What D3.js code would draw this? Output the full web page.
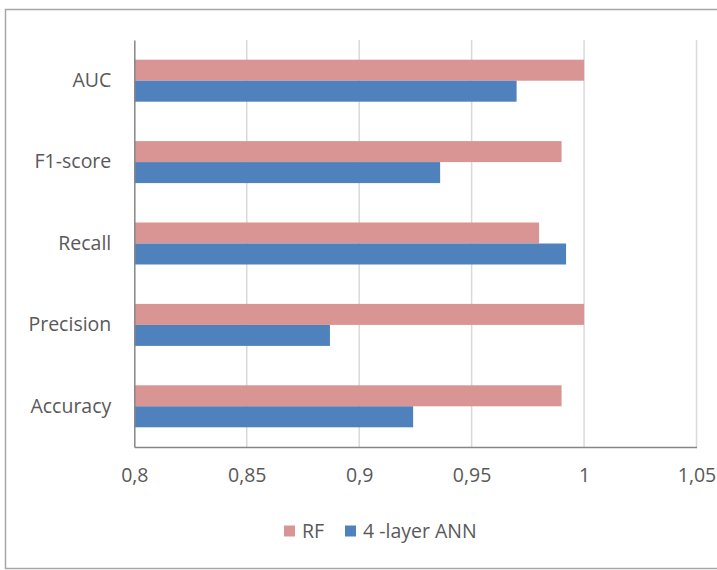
<!DOCTYPE html>
<html>
<head>
<meta charset="utf-8">
<script src="https://cdn.jsdelivr.net/npm/d3@7"></script>
<style>
  html, body { margin: 0; padding: 0; background: #fff; }
  svg { display: block; }
  text { font-family: "Open Sans", Lato, sans-serif; fill: #595959; }
</style>
</head>
<body>
<svg id="chart" width="717" height="570"></svg>
<script>
// Metrics shown on the vertical axis, top to bottom
const categories = ["AUC", "F1-score", "Recall", "Precision", "Accuracy"];
// Model scores per metric
const rfValues  = [1.000, 0.990, 0.980, 1.000, 0.990];
const annValues = [0.970, 0.936, 0.992, 0.887, 0.924];
const seriesNames = ["RF", "4 -layer ANN"];
const xTicks = [0.8, 0.85, 0.9, 0.95, 1.0, 1.05];
const xTickLabels = ["0,8", "0,85", "0,9", "0,95", "1", "1,05"];

const colors = ["#D99594", "#4F81BD"];
const series = [rfValues, annValues];

const svg = d3.select("#chart");
const W = 717;
const m = { left: 134.3, right: 696.5, top: 40, bottom: 447 };
const fontSize = "19.5px";

// Outer frame
svg.append("rect")
  .attr("x", 5.5).attr("y", 9.5)
  .attr("width", W + 10).attr("height", 559)
  .attr("fill", "#fff")
  .attr("stroke", "#a6a6a6").attr("stroke-width", 1.5);

const x = d3.scaleLinear().domain([0.8, 1.05]).range([m.left, m.right]);
const y = d3.scaleBand().domain(categories).range([m.top, m.bottom]).paddingInner(0).paddingOuter(0);
const barH = 21;
const sub = d3.scaleBand().domain(seriesNames).range([0, 2 * barH]);

// Vertical gridlines
svg.append("g").selectAll("line")
  .data(xTicks.slice(1))
  .join("line")
  .attr("x1", d => x(d)).attr("x2", d => x(d))
  .attr("y1", m.top).attr("y2", m.bottom)
  .attr("stroke", "#d9d9d9").attr("stroke-width", 1.5);

// Bars
const groups = svg.append("g").selectAll("g")
  .data(categories)
  .join("g")
  .attr("transform", d => `translate(0,${y(d) + y.bandwidth() / 2 - barH})`);

groups.selectAll("rect")
  .data((d, i) => series.map((s, j) => ({ name: seriesNames[j], value: s[i], color: colors[j] })))
  .join("rect")
  .attr("x", x(0.8))
  .attr("y", d => sub(d.name))
  .attr("width", d => x(d.value) - x(0.8))
  .attr("height", barH)
  .attr("fill", d => d.color);

// Axes
const xAxis = d3.axisBottom(x)
  .tickValues(xTicks)
  .tickFormat((d, i) => xTickLabels[i])
  .tickSize(0).tickPadding(21);
const gx = svg.append("g")
  .attr("transform", `translate(0,${m.bottom})`)
  .call(xAxis);
gx.select(".domain").attr("stroke", "#868686").attr("stroke-width", 1.5);
gx.selectAll("text").style("font-size", fontSize).style("font-family", null).attr("fill", "#595959");

const yAxis = d3.axisLeft(y).tickSize(0).tickPadding(23);
const gy = svg.append("g")
  .attr("transform", `translate(${m.left},0)`)
  .call(yAxis);
gy.select(".domain").attr("stroke", "#868686").attr("stroke-width", 1.5);
gy.selectAll("text").style("font-size", fontSize).attr("fill", "#595959");
svg.selectAll(".tick text").attr("font-family", null);
svg.selectAll("g").attr("font-family", null).attr("font-size", null);

// Legend
const legend = svg.append("g").attr("transform", "translate(284,531)");
const legendX = [0, 61];
seriesNames.forEach((name, i) => {
  const g = legend.append("g").attr("transform", `translate(${legendX[i]},0)`);
  g.append("rect").attr("x", 0).attr("y", -5.5).attr("width", 11).attr("height", 11).attr("fill", colors[i]);
  g.append("text").attr("x", 18).attr("y", 0).attr("dy", "0.35em")
    .style("font-size", fontSize).text(name);
});
</script>
</body>
</html>
